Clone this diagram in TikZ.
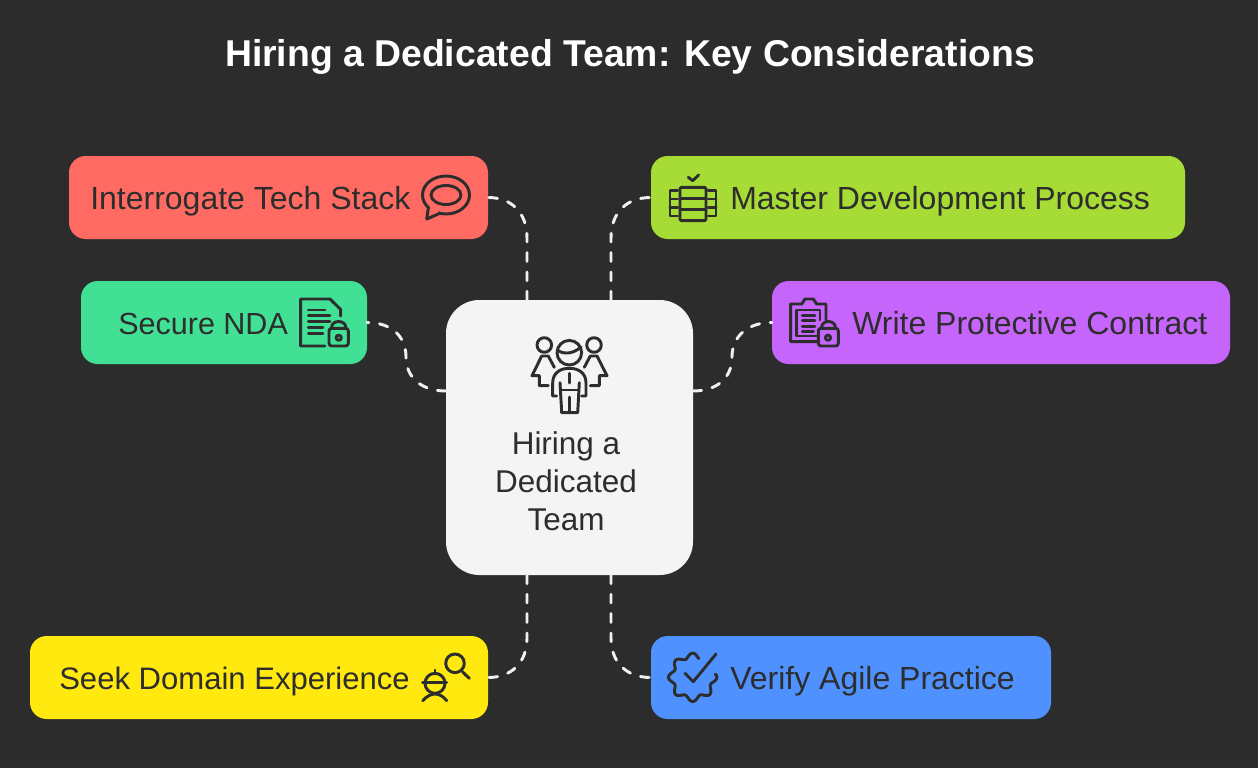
\documentclass[tikz,border=0pt]{standalone}
\usepackage{fontspec}
\setmainfont{Liberation Sans}
\definecolor{bgc}{HTML}{2C2C2C}
\definecolor{ink}{HTML}{2D2D2D}
\definecolor{cred}{HTML}{FF6B63}
\definecolor{clime}{HTML}{A6DC35}
\definecolor{cgreen}{HTML}{42E094}
\definecolor{cpurple}{HTML}{C565FB}
\definecolor{cyellow}{HTML}{FFE90F}
\definecolor{cblue}{HTML}{4F92FF}
\definecolor{ccenter}{HTML}{F4F4F4}
\tikzset{
  box/.style={rounded corners=12.5pt,inner sep=0pt,outer sep=0pt,minimum height=62.25pt},
  label/.style={text=ink,font=\fontsize{24pt}{28pt}\selectfont,inner sep=0pt,anchor=base west},
  ctext/.style={text=ink,font=\fontsize{23.6pt}{28pt}\selectfont,inner sep=0pt,anchor=base},
  link/.style={draw=white!94!black,line width=2.2pt,line cap=round,dash pattern=on 6.5pt off 8pt},
  icon/.style={draw=ink,line width=2.2pt,line cap=round,line join=round}
}
\begin{document}
\begin{tikzpicture}[x=0.75pt,y=-0.75pt]
\useasboundingbox (0,0) rectangle (1258,768);
\fill[bgc] (0,0) rectangle (1258,768);
\node[inner sep=0pt,anchor=base,text=white,font=\bfseries\fontsize{28pt}{32pt}\selectfont] (title) at (630,66) {Hiring a Dedicated Team: Key Considerations};

\node[box,fill=cred,minimum width=314.25pt] (red) at (278.5,197.5) {};
\node[box,fill=clime,minimum width=400.5pt] (lime) at (918,197.5) {};
\node[box,fill=cgreen,minimum width=214.5pt] (green) at (224,322.5) {};
\node[box,fill=cpurple,minimum width=343.5pt] (purple) at (1001,322.5) {};
\node[box,fill=cyellow,minimum width=343.5pt] (yellow) at (259,677.5) {};
\node[box,fill=cblue,minimum width=300pt] (blue) at (851,677.5) {};
\node[fill=ccenter,rounded corners=25pt,inner sep=0pt,outer sep=0pt,minimum width=185.25pt,minimum height=206.25pt] (center) at (569.5,437.5) {};

\coordinate (cTL) at (527,300);
\coordinate (cTR) at (611,300);
\coordinate (cBL) at (527,575);
\coordinate (cBR) at (611,575);
\coordinate (cL) at (446,391);
\coordinate (cR) at (693,391);

\draw[link] (cTL) -- (527,238) .. controls (527,213) and (512,197.5) .. (red.east);
\draw[link] (cTR) -- (611,238) .. controls (611,213) and (626,197.5) .. (lime.west);
\draw[link] (cL) .. controls (422,391) and (406,378) .. (406,357) .. controls (406,336) and (391,322.5) .. (green.east);
\draw[link] (cR) .. controls (717,391) and (732,378) .. (732,357) .. controls (732,336) and (748,322.5) .. (purple.west);
\draw[link] (cBL) -- (527,638) .. controls (527,662) and (512,677.5) .. (yellow.east);
\draw[link] (cBR) -- (611,638) .. controls (611,662) and (626,677.5) .. (blue.west);

\node[label] (t1) at (90,209) {Interrogate Tech Stack};
\node[label] (t2) at (730,209) {Master Development Process};
\node[label,font=\fontsize{22.9pt}{28pt}\selectfont] (t3) at (118,334) {Secure NDA};
\node[label] (t4) at (852,334) {Write Protective Contract};
\node[label,font=\fontsize{23.3pt}{28pt}\selectfont] (t5) at (59,689) {Seek Domain Experience};
\node[label] (t6) at (730,689) {Verify Agile Practice};
\node[ctext] (c1) at (566,454) {Hiring a};
\node[ctext] (c2) at (566,492) {Dedicated};
\node[ctext] (c3) at (566,530) {Team};

% speech bubble
\draw[icon] (446,195) ellipse [x radius=23.5,y radius=19];
\draw[icon] (446,195) ellipse [x radius=15,y radius=9.5];
\fill[cred] (429,205) -- (427,219) -- (440,213.5) -- (436,209) -- cycle;
\draw[icon] (428.5,207) -- (426.7,219) -- (439.5,213.5);

% document + lock
\draw[icon] (325,346) -- (300.7,346) -- (300.7,299) -- (330,299) -- (340.7,309.5) -- (340.7,316);
\foreach \yy/\xx in {310/325,315.7/330,321.7/330,327.7/323,333.3/323}
  \draw[icon] (308.3,\yy) -- (\xx,\yy);
\draw[icon,rounded corners=2pt] (329,328.3) rectangle (348.3,346);
\draw[icon] (331.7,328) -- (331.7,327) arc[start angle=180,end angle=360,x radius=7,y radius=5.5] -- (345.7,328);
\draw[icon] (338.7,337.7) circle (2.6);

% stacked process
\draw[icon,rounded corners=1pt] (680,187.3) rectangle (706,220.7);
\draw[icon] (680,198.3) -- (706,198.3) (680,209.5) -- (706,209.5);
\draw[icon] (677.7,190.7) -- (670,190.7) -- (670,216) -- (677.7,216) (670,199) -- (677.7,199) (670,207.3) -- (677.7,207.3);
\draw[icon] (708,190.7) -- (716,190.7) -- (716,216) -- (708,216) (716,199) -- (708,199) (716,207.3) -- (708,207.3);
\draw[icon] (688.3,177.3) -- (692.7,180.7) -- (698.7,175);

% clipboard + lock
\draw[icon] (816.7,341.7) -- (790.7,341.7) -- (790.7,304) -- (801.7,304) -- (805,299) -- (813.3,299) -- (816.7,304) -- (826,304) -- (826,320);
\draw[icon] (816.7,336) -- (796.7,336) -- (796.7,310) -- (820,310) -- (820,320);
\foreach \yy/\xx in {315.7/815,320.7/815,326.7/815,331.7/813.3}
  \draw[icon] (802.3,\yy) -- (\xx,\yy);
\draw[icon,rounded corners=2pt] (818.3,328.3) rectangle (838.3,346);
\draw[icon] (821.7,328) -- (821.7,327) arc[start angle=180,end angle=360,x radius=6.8,y radius=5.5] -- (835.3,328);
\draw[icon] (828,337.7) circle (2.6);

% team
\draw[icon] (544.3,345) circle (7.3);
\draw[icon] (594,345) circle (7.3);
\draw[icon] (569.3,352.7) circle (12.3);
\draw[icon] (557.5,350) .. controls (562,354) and (572,355) .. (581,347);
\draw[icon] (554.3,367.3) -- (548.3,356) -- (541.7,356) -- (532,375.7) -- (539.3,375.7) -- (539.3,385.7) -- (548.3,385.7);
\draw[icon] (584.3,367.3) -- (590.3,356) -- (597,356) -- (607,375.7) -- (599.3,375.7) -- (599.3,385.7) -- (590.3,385.7);
\draw[icon] (556.7,396) -- (552.7,396) -- (552.7,383) .. controls (552.7,373) and (560,368.3) .. (569.3,368.3) .. controls (578.7,368.3) and (586,373) .. (586,383) -- (586,396) -- (581.7,396);
\draw[icon] (560,382.7) -- (561.7,412.7) -- (577.7,412.7) -- (579.3,382.7);
\draw[icon] (560.5,390) -- (578.8,390);
\draw[icon] (569.3,373.3) -- (569.3,383);
\draw[icon] (569.3,397) -- (569.3,412.7);

% worker + magnifier
\draw[icon] (455,663.3) circle (9.3);
\draw[icon] (462.3,671.7) -- (469.3,678.3);
\draw[icon] (435,683.3) circle (10);
\draw[icon] (422.7,682.3) -- (446.7,682.3);
\draw[icon] (435,670) -- (435,674);
\draw[icon] (422.7,700.7) .. controls (427,696) and (431,694) .. (435,694) .. controls (439,694) and (443,696) .. (446.7,700.7);

% badge check
\draw[icon] plot[domain=72:368,samples=160,variable=\t] ({692.7+(21.7+2.5*cos(8*\t))*cos(\t)},{677.3-(21.7+2.5*cos(8*\t))*sin(\t)});
\draw[icon] (685,673.3) -- (693.3,681.7) -- (716,654);
\end{tikzpicture}
\end{document}
